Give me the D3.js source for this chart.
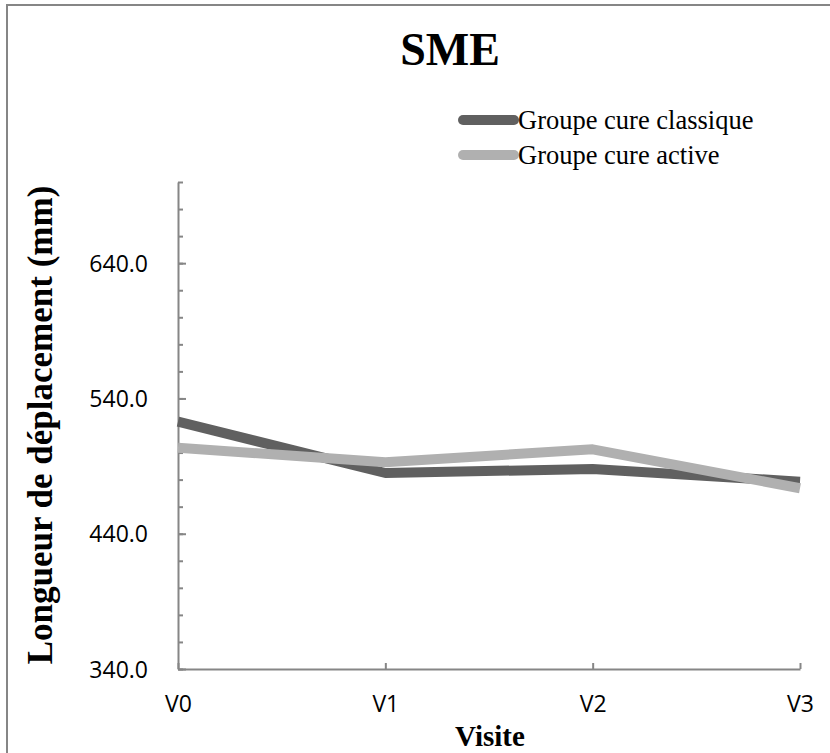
<!DOCTYPE html>
<html>
<head>
<meta charset="utf-8">
<script src="https://cdn.jsdelivr.net/npm/d3@7"></script>
<style>
  html, body { margin: 0; padding: 0; background: #fff; }
  svg { display: block; }
</style>
</head>
<body>
<svg id="chart" width="830" height="753"></svg>
<script>
const categories = ["V0", "V1", "V2", "V3"];
const seriesNames = ["Groupe cure classique", "Groupe cure active"];
const classique = [522.8, 484.9, 487.8, 478.5];
const active = [503.6, 492.8, 502.4, 473.6];
const majorTicks = [340, 440, 540, 640];
const minorTicks = d3.range(340, 701, 20);
const titleText = "SME";
const xTitle = "Visite";
const yTitle = "Longueur de déplacement (mm)";

const colors = ["#606060", "#b0b0b0"];
const W = 830, H = 753;
const plot = { left: 178, right: 800, top: 182, bottom: 669 };

const svg = d3.select("#chart");

// outer frame
svg.append("rect")
  .attr("x", 7).attr("y", 5)
  .attr("width", W + 20).attr("height", H + 20)
  .attr("fill", "#fff").attr("stroke", "#868686").attr("stroke-width", 2);

const x = d3.scalePoint().domain(categories).range([plot.left, plot.right]);
const y = d3.scaleLinear().domain([340, 700]).range([plot.bottom, plot.top]);

// title
svg.append("text")
  .attr("x", 450).attr("y", 65)
  .attr("text-anchor", "middle")
  .attr("font-family", "Liberation Serif, Times New Roman, serif")
  .attr("font-weight", "bold").attr("font-size", 46)
  .text(titleText);

// y axis minor ticks
const yMinor = d3.axisRight(y).tickValues(minorTicks).tickSize(5).tickFormat("");
const gyMinor = svg.append("g").attr("transform", `translate(${plot.left},0)`).call(yMinor);
gyMinor.select(".domain").remove();
gyMinor.selectAll("line").attr("stroke", "#868686").attr("stroke-width", 2);

// y axis major ticks + domain
const yMajor = d3.axisRight(y).tickValues(majorTicks).tickSize(8).tickSizeOuter(0).tickFormat(d3.format(".1f"));
const gy = svg.append("g").attr("transform", `translate(${plot.left},0)`).call(yMajor);
gy.select(".domain").attr("stroke", "#868686").attr("stroke-width", 2);
gy.selectAll(".tick line").attr("stroke", "#868686").attr("stroke-width", 2);
gy.selectAll(".tick text")
  .attr("x", -30).attr("dy", "0.35em")
  .attr("text-anchor", "end")
  .attr("font-family", "Open Sans, sans-serif").attr("font-size", 23)
  .attr("fill", "#000");

// x axis
const xAxis = d3.axisTop(x).tickSize(6).tickSizeOuter(0);
const gx = svg.append("g").attr("transform", `translate(0,${plot.bottom})`).call(xAxis);
gx.select(".domain").attr("stroke", "#868686").attr("stroke-width", 2);
gx.selectAll(".tick line").attr("stroke", "#868686").attr("stroke-width", 2);
gx.selectAll(".tick text")
  .attr("y", 43).attr("dy", 0)
  .attr("font-family", "Open Sans, sans-serif").attr("font-size", 23)
  .attr("fill", "#000");

// axis titles
svg.append("text")
  .attr("x", 490).attr("y", 746)
  .attr("text-anchor", "middle")
  .attr("font-family", "Liberation Serif, Times New Roman, serif")
  .attr("font-weight", "bold").attr("font-size", 29)
  .text(xTitle);

svg.append("text")
  .attr("transform", `translate(52,425) rotate(-90)`)
  .attr("text-anchor", "middle")
  .attr("font-family", "Liberation Serif, Times New Roman, serif")
  .attr("font-weight", "bold").attr("font-size", 35)
  .text(yTitle);

// lines
const line = d3.line().x((d, i) => x(categories[i])).y(d => y(d));
[classique, active].forEach((s, k) => {
  svg.append("path")
    .datum(s)
    .attr("d", line)
    .attr("fill", "none")
    .attr("stroke", colors[k])
    .attr("stroke-width", 10)
    .attr("stroke-linejoin", "round")
    .attr("stroke-linecap", "butt");
});

// legend
const legend = svg.append("g");
seriesNames.forEach((name, k) => {
  const ly = 120 + k * 35;
  legend.append("line")
    .attr("x1", 463).attr("x2", 514)
    .attr("y1", ly).attr("y2", ly)
    .attr("stroke", colors[k]).attr("stroke-width", 10)
    .attr("stroke-linecap", "round");
  legend.append("text")
    .attr("x", 518).attr("y", ly + 9)
    .attr("font-family", "Liberation Serif, Times New Roman, serif")
    .attr("font-size", 26.5)
    .attr("fill", "#000")
    .text(name);
});
</script>
</body>
</html>
